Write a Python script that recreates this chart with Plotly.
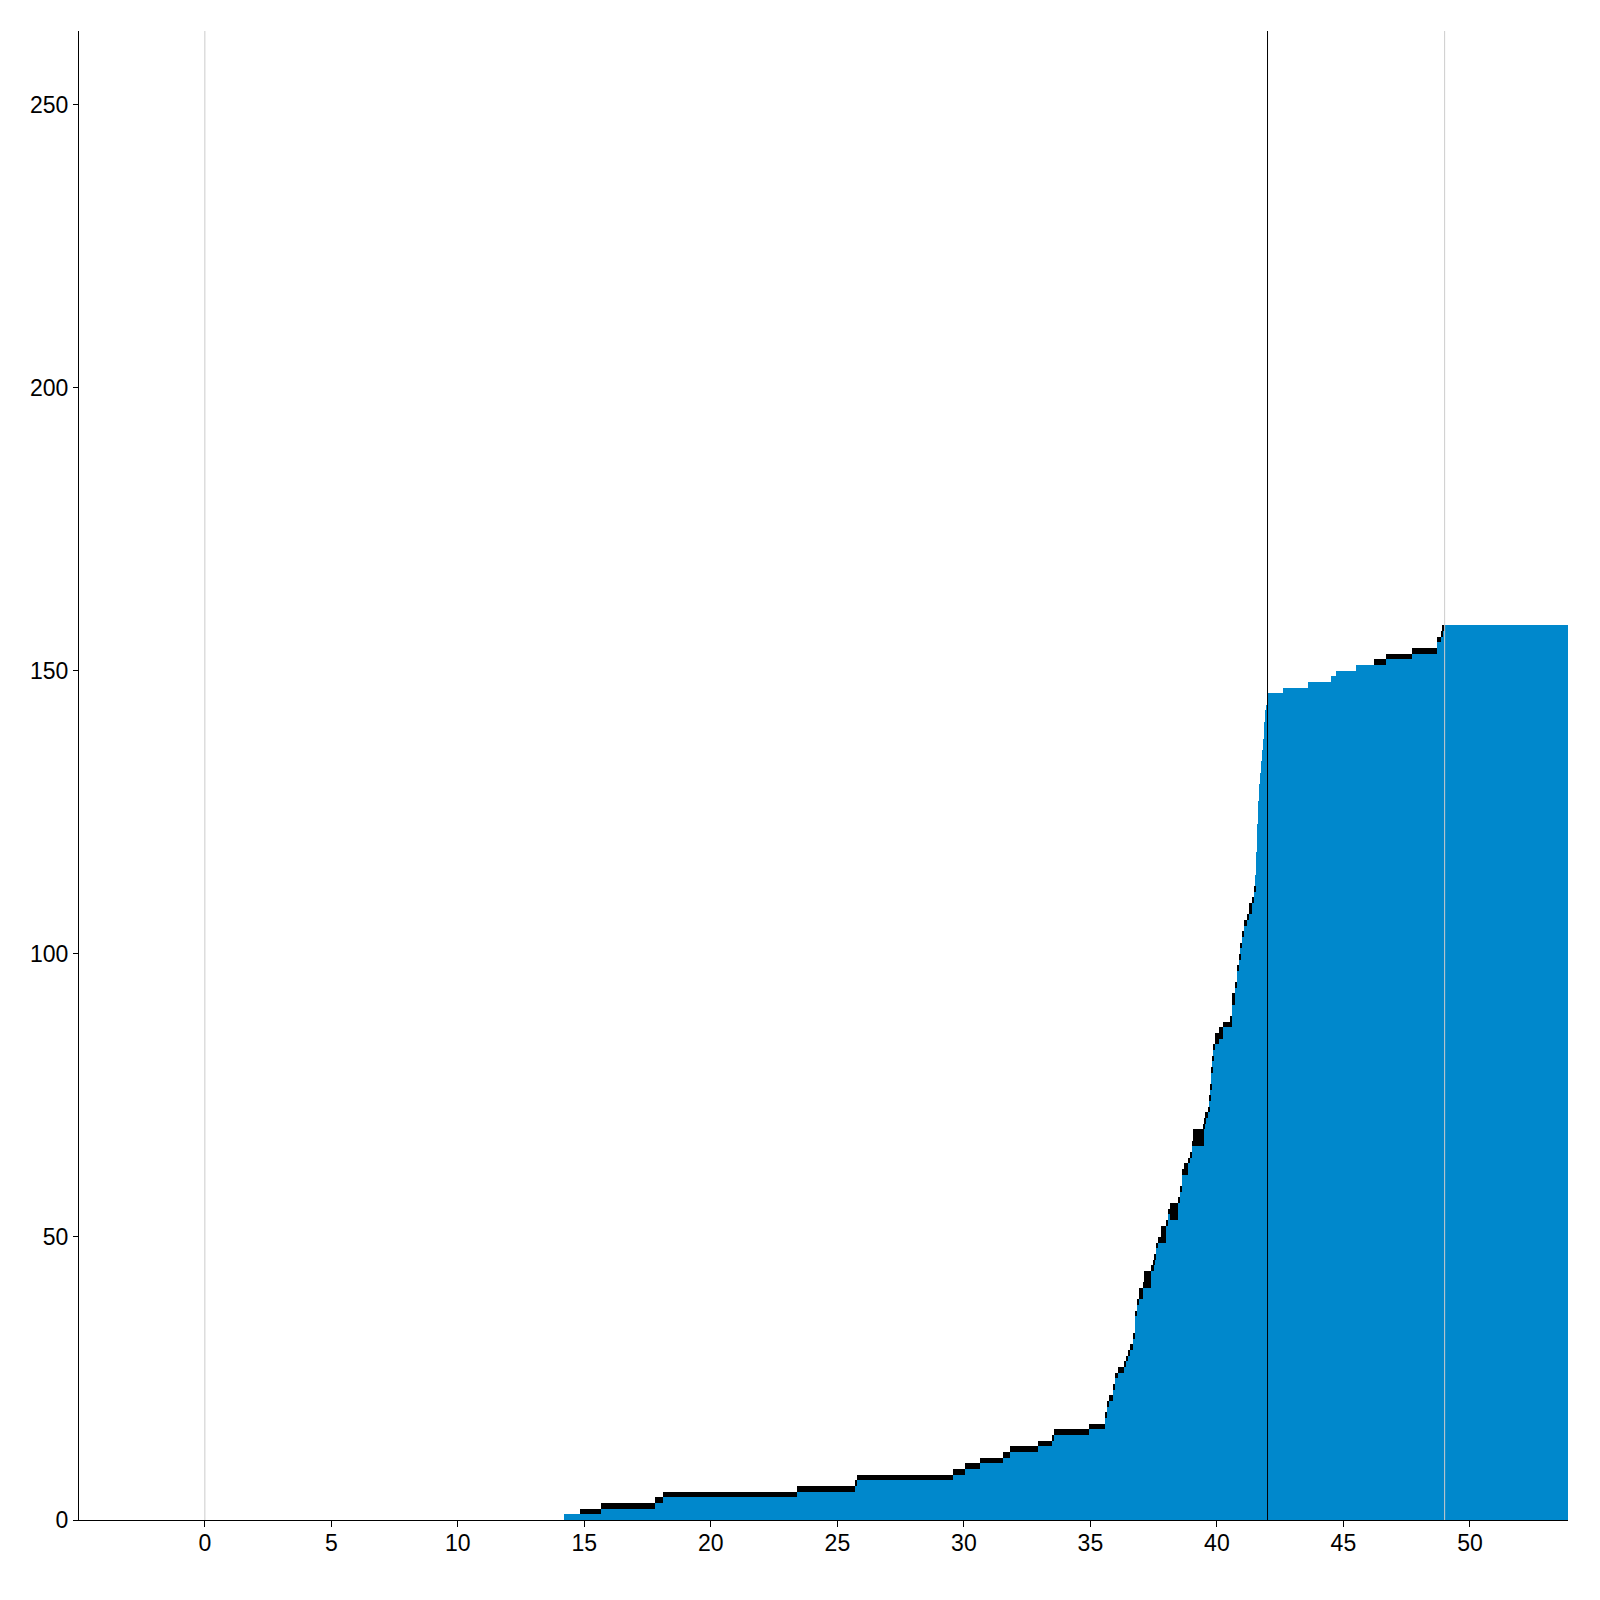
import numpy as np
import plotly.graph_objects as go

# start of each period (x) and running total at that period
x_start = [14.18, 14.81, 15.64, 17.78, 18.09, 23.39, 25.68, 25.76, 29.56, 30.03,
           30.62, 31.53, 31.84, 32.91, 33.50, 33.58, 34.96, 35.56, 35.64, 35.72,
           35.88, 35.96, 36.08, 36.32, 36.40, 36.48, 36.56, 36.68, 36.76, 36.84,
           36.92, 37.08, 37.12, 37.39, 37.51, 37.55, 37.59, 37.67, 37.79, 37.99,
           38.07, 38.15, 38.46, 38.54, 38.62, 38.70, 38.86, 38.94, 39.02, 39.05,
           39.48, 39.52, 39.56, 39.63, 39.71, 39.75, 39.79, 39.83, 39.87, 39.91,
           40.07, 40.26, 40.50, 40.58, 40.70, 40.78, 40.86, 40.94, 41.01, 41.09,
           41.17, 41.25, 41.37, 41.45, 41.53, 41.56, 41.60, 41.64, 41.68, 41.72,
           41.76, 41.80, 41.84, 41.88, 41.92, 41.96, 42.00, 42.60, 43.60, 44.50,
           44.70, 45.50, 46.20, 46.70, 47.70, 48.70, 48.85, 48.93, 49.00]
x_end = 54.0

total = [1, 2, 3, 4, 5, 6, 7, 8, 9, 10,
         11, 12, 13, 14, 15, 16, 17, 19, 21, 22,
         24, 26, 27, 28, 29, 30, 31, 33, 37, 39,
         41, 42, 44, 45, 46, 47, 49, 50, 52, 53,
         55, 56, 57, 59, 62, 63, 64, 65, 67, 69,
         70, 71, 72, 73, 75, 77, 80, 82, 84, 86,
         87, 88, 89, 93, 95, 98, 100, 102, 104, 106,
         107, 109, 110, 112, 114, 118, 123, 127, 130, 132,
         134, 136, 138, 141, 143, 144, 146, 147, 148, 149,
         150, 151, 152, 153, 154, 156, 157, 158, 158]

# new in that period (black cap on top of the bar)
new = [0, 1, 1, 1, 1, 1, 1, 1, 1, 1,
       1, 1, 1, 1, 1, 1, 1, 1, 1, 1,
       1, 1, 1, 1, 1, 1, 1, 1, 1, 1,
       2, 1, 3, 1, 1, 1, 1, 1, 3, 1,
       1, 3, 1, 1, 1, 2, 1, 1, 1, 3,
       1, 1, 1, 1, 1, 1, 1, 1, 1, 2,
       2, 1, 2, 2, 1, 1, 1, 1, 1, 1,
       1, 2, 1, 1, 0, 0, 0, 0, 0, 0,
       0, 0, 0, 0, 0, 0, 0, 0, 0, 0,
       0, 0, 1, 1, 1, 1, 1, 1, 0]

assert len(x_start) == len(total) == len(new)

edges = np.array(x_start + [x_end])
widths = np.diff(edges)
centers = edges[:-1] + widths / 2
base = np.array(total) - np.array(new)

fig = go.Figure()
fig.add_trace(go.Bar(
    x=centers, y=base, width=widths,
    marker=dict(color="#0088cc", line=dict(width=0)),
    showlegend=False,
))
fig.add_trace(go.Bar(
    x=centers, y=new, width=widths,
    marker=dict(color="#000000", line=dict(width=0)),
    showlegend=False,
))

# reference lines
for xv, col in [(0, "#cccccc"), (42, "#000000"), (49, "#cccccc")]:
    fig.add_shape(type="line", xref="x", yref="paper", x0=xv, x1=xv, y0=0, y1=1,
                  line=dict(color=col, width=1), layer="above")

font = dict(family="Arial, Liberation Sans, sans-serif", size=23, color="#000000")

# page body has an 8px margin, so the plot area offsets account for it
fig.update_layout(
    width=1600, height=1600,
    barmode="stack", bargap=0, bargroupgap=0,
    plot_bgcolor="white", paper_bgcolor="white",
    margin=dict(l=71, r=40, t=23, b=88),
    font=font,
)
fig.update_xaxes(
    range=[-4.974, 53.876], tickvals=list(range(0, 55, 5)),
    ticks="outside", ticklen=6, tickcolor="black",
    showline=True, linecolor="black", linewidth=1,
    showgrid=False, zeroline=False, tickfont=font,
    ticklabelstandoff=-4,
)
fig.update_yaxes(
    range=[0, 263], tickvals=list(range(0, 300, 50)),
    ticks="outside", ticklen=5, tickcolor="black",
    showline=True, linecolor="black", linewidth=1,
    showgrid=False, zeroline=False, tickfont=font,
)

fig.write_html("out.html")
